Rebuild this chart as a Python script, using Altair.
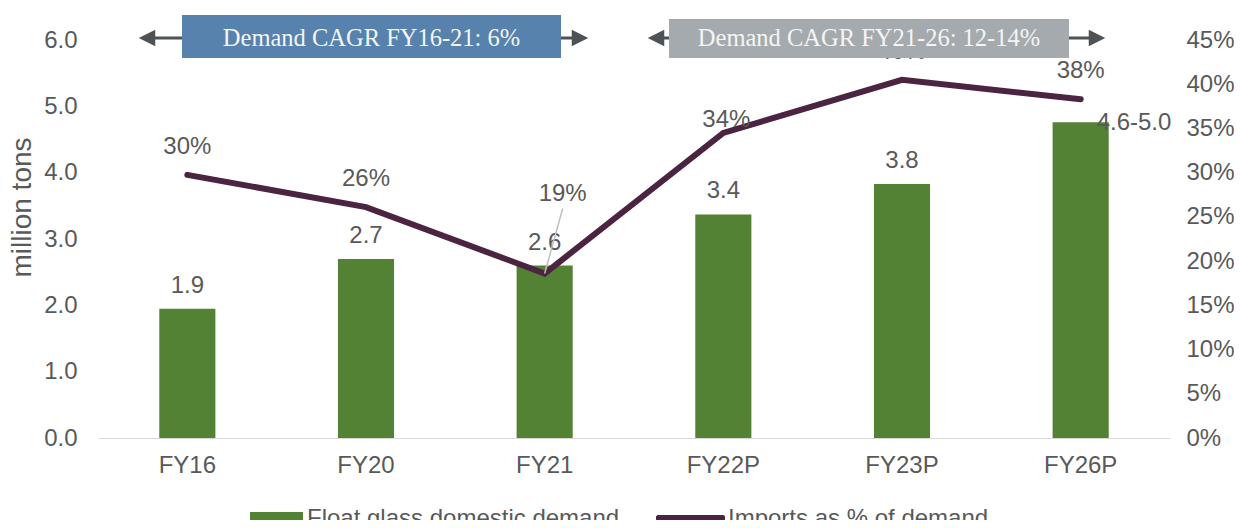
import altair as alt
import pandas as pd

# ---------------- data ----------------
categories = ["FY16", "FY20", "FY21", "FY22P", "FY23P", "FY26P"]
demand = [1.95, 2.70, 2.60, 3.37, 3.83, 4.76]
demand_labels = ["1.9", "2.7", "2.6", "3.4", "3.8", "4.6-5.0"]
imports_share = [0.2975, 0.261, 0.186, 0.345, 0.405, 0.383]
imports_labels = ["30%", "26%", "19%", "34%", "40%", "38%"]
left_ticks = [0, 1, 2, 3, 4, 5, 6]
right_ticks = [0, 0.05, 0.10, 0.15, 0.20, 0.25, 0.30, 0.35, 0.40, 0.45]
series_names = ["Float glass domestic demand", "Imports as % of demand"]
cagr_labels = ["Demand CAGR FY16-21: 6%", "Demand CAGR FY21-26: 12-14%"]
y_title = "million tons"

# ---------------- styles ----------------
FONT = "Liberation Sans"
SERIF = "Liberation Serif"
GREY = "#595959"
GREEN = "#548235"
PLUM = "#4A2440"
ARROW = "#4D5257"
BLUE_BOX = "#5682AD"
GREY_BOX = "#A4AAAD"

df = pd.DataFrame({
    "cat": categories,
    "demand": demand,
    "demand_label": demand_labels,
    "share": imports_share,
    "share_label": imports_labels,
})

base = alt.Chart(df)

x_enc = alt.X(
    "cat:N", sort=categories,
    scale=alt.Scale(paddingInner=0.686, paddingOuter=0.343),
    axis=alt.Axis(title=None, labelAngle=0, labelFontSize=24, labelFont=FONT,
                  labelColor=GREY, ticks=False, domainColor="#D9D9D9",
                  domainWidth=1, labelPadding=15, grid=False),
)

# ---- bars (left axis) ----
y_left = alt.Y(
    "demand:Q",
    scale=alt.Scale(domain=[0, 6], nice=False),
    axis=alt.Axis(values=left_ticks, format=".1f", title=y_title, grid=False,
                  domain=False, ticks=False, labelFontSize=24, labelFont=FONT,
                  labelColor=GREY, labelPadding=21, titleFont=FONT,
                  titleFontSize=28, titleFontWeight="normal", titleColor=GREY,
                  titleY=167, titlePadding=7),
)
bars = base.mark_bar(color=GREEN).encode(x=x_enc, y=y_left)
bar_text = base.transform_filter(alt.datum.cat != "FY26P").mark_text(
    dy=-16, baseline="alphabetic", fontSize=24, font=FONT, color=GREY
).encode(x=x_enc, y="demand:Q", text="demand_label:N")
bar_text_last = base.transform_filter(alt.datum.cat == "FY26P").mark_text(
    align="left", dx=16, dy=1, baseline="middle", fontSize=24, font=FONT, color=GREY
).encode(x=x_enc, y="demand:Q", text="demand_label:N")
bar_group = alt.layer(bars, bar_text, bar_text_last)

# ---- line (right axis) ----
y_right = alt.Y(
    "share:Q",
    scale=alt.Scale(domain=[0, 0.45], nice=False),
    axis=alt.Axis(orient="right", values=right_ticks, format=".0%", title=None,
                  grid=False, domain=False, ticks=False, labelFontSize=24,
                  labelFont=FONT, labelColor=GREY, labelPadding=16),
)
line = base.mark_line(color=PLUM, strokeWidth=6, strokeCap="round").encode(x=x_enc, y=y_right)
leader = base.transform_filter(alt.datum.cat == "FY21").mark_rule(
    color="#BFBFBF", strokeWidth=1.5, x2Offset=18, y2Offset=-65
).encode(
    x=alt.X("cat:N", sort=categories, bandPosition=0.5),
    y="share:Q",
    x2=alt.X2("cat:N", bandPosition=0.5),
    y2="share:Q",
)
line_text = base.transform_filter(
    (alt.datum.cat != "FY21") & (alt.datum.cat != "FY22P")
).mark_text(dy=-21, baseline="alphabetic", fontSize=24, font=FONT, color=GREY).encode(
    x=x_enc, y="share:Q", text="share_label:N")
line_text_22 = base.transform_filter(alt.datum.cat == "FY22P").mark_text(
    dx=3, dy=-6, baseline="alphabetic", fontSize=24, font=FONT, color=GREY
).encode(x=x_enc, y="share:Q", text="share_label:N")
line_text_21 = base.transform_filter(alt.datum.cat == "FY21").mark_text(
    dx=18, dy=-72, baseline="alphabetic", fontSize=24, font=FONT, color=GREY
).encode(x=x_enc, y="share:Q", text="share_label:N")
line_group = alt.layer(line, leader, line_text, line_text_22, line_text_21)


# ---- CAGR banners (pixel positions relative to the plot area) ----
def banner(label, fill, tip_l, tip_r, bx0, bx1, by0, by1):
    src = alt.Chart(pd.DataFrame({"label": [label]}))
    yc = -2
    shaft = src.mark_rule(color=ARROW, strokeWidth=3).encode(
        x=alt.value(tip_l + 10), x2=alt.value(tip_r - 10), y=alt.value(yc))
    head_l = src.mark_point(shape="M1,-1L-1,0L1,1Z", size=272, filled=True,
                            color=ARROW, opacity=1, strokeWidth=0).encode(
        x=alt.value(tip_l + 8), y=alt.value(yc))
    head_r = src.mark_point(shape="M-1,-1L1,0L-1,1Z", size=272, filled=True,
                            color=ARROW, opacity=1, strokeWidth=0).encode(
        x=alt.value(tip_r - 8), y=alt.value(yc))
    box = src.mark_rect(color=fill).encode(
        x=alt.value(bx0), x2=alt.value(bx1), y=alt.value(by0), y2=alt.value(by1))
    txt = src.mark_text(font=SERIF, fontSize=24.5, color="#F5F5F5",
                        baseline="alphabetic").encode(
        x=alt.value((bx0 + bx1) / 2), y=alt.value(6), text="label:N")
    return [shaft, head_l, head_r, box, txt]


banners = banner(cagr_labels[0], BLUE_BOX, 41, 490, 84, 463, -25, 18) + \
    banner(cagr_labels[1], GREY_BOX, 550, 1007, 571, 971, -21, 18)

# ---- legend (manual) ----
leg_src = alt.Chart(pd.DataFrame({"name": series_names}))
leg_rect = leg_src.mark_rect(color=GREEN).encode(
    x=alt.value(152), x2=alt.value(205), y=alt.value(472), y2=alt.value(484))
leg_text1 = leg_src.transform_filter(alt.datum.name == series_names[0]).mark_text(
    align="left", baseline="alphabetic", fontSize=24, font=FONT, color=GREY
).encode(x=alt.value(209), y=alt.value(486), text="name:N")
leg_line = leg_src.mark_rule(color=PLUM, strokeWidth=6, strokeCap="round").encode(
    x=alt.value(561), x2=alt.value(624), y=alt.value(478))
leg_text2 = leg_src.transform_filter(alt.datum.name == series_names[1]).mark_text(
    align="left", baseline="alphabetic", fontSize=24, font=FONT, color=GREY
).encode(x=alt.value(630), y=alt.value(486), text="name:N")
legend = [leg_rect, leg_text1, leg_line, leg_text2]

chart = alt.layer(bar_group, line_group, *banners, *legend).resolve_scale(
    y="independent"
).properties(
    width=1072, height=398,
    autosize=alt.AutoSizeParams(type="none"),
    padding={"left": 90, "top": 32, "right": 64, "bottom": 82},
).configure(font=FONT).configure_view(stroke=None)

chart.save("out.html", embed_options={"renderer": "svg", "actions": False})
